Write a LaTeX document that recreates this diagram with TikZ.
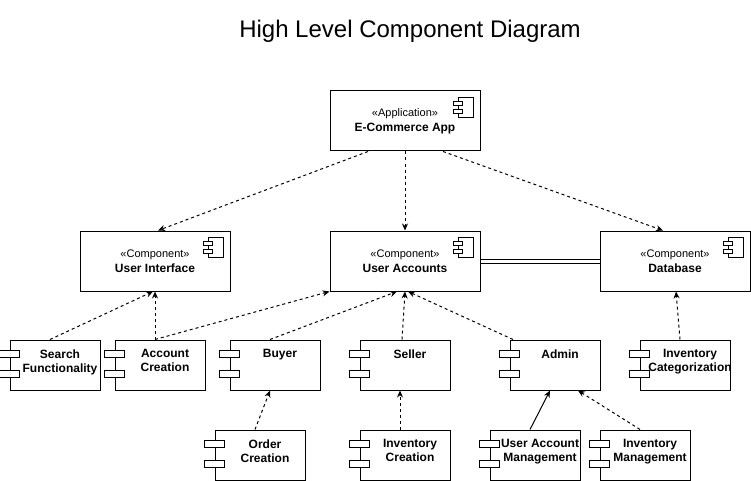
\documentclass[tikz,border=0pt]{standalone}
\usepackage{fontspec}
\setmainfont{Liberation Sans}
\usetikzlibrary{arrows.meta}

\tikzset{
  comp/.style={draw, minimum width=150pt, minimum height=60pt, align=center, inner sep=0pt,
    font=\fontsize{12}{15}\selectfont},
  part/.style={draw, minimum width=90pt, minimum height=50pt, inner sep=0pt},
  partname/.style={anchor=north, align=center, inner sep=0pt, xshift=5pt, yshift=-9.5pt,
    font=\fontsize{12}{14}\selectfont\bfseries},
  dep/.style={dash pattern=on 3pt off 3pt, -{Stealth[length=7pt,width=6pt]}},
  use/.style={-{Stealth[length=7pt,width=6pt]}}
}

% small component symbol in the top right corner
\newcommand{\compicon}[1]{%
  \draw[shift={(#1.north east)}, fill=white] (-22,7) rectangle (-7,27);
  \draw[shift={(#1.north east)}, fill=white] (-27,11) rectangle (-18,15);
  \draw[shift={(#1.north east)}, fill=white] (-27,19) rectangle (-18,23);
}
% the two ports on the left side of a part
\newcommand{\partports}[1]{%
  \draw[shift={(#1.north west)}, fill=white] (-10,11) rectangle (10,18);
  \draw[shift={(#1.north west)}, fill=white] (-10,31) rectangle (10,38);
}

\begin{document}
\begin{tikzpicture}[x=1pt, y=-1pt, line width=1pt, font=\fontsize{12}{14}\selectfont]
  \useasboundingbox (0,0) rectangle (751,481);

  % Title
  \node[anchor=base, font=\fontsize{24}{28}\selectfont] (title) at (410,38) {High Level Component Diagram};

  % Application and main components
  \node[comp] (app) at (405,121) {{\fontsize{11}{15}\selectfont «Application»}\\\textbf{E-Commerce App}};
  \node[comp] (ui) at (155,261) {{\fontsize{11}{15}\selectfont «Component»}\\\textbf{User Interface}};
  \node[comp] (ua) at (405,261) {{\fontsize{11}{15}\selectfont «Component»}\\\textbf{User Accounts}};
  \node[comp] (db) at (675,261) {{\fontsize{11}{15}\selectfont «Component»}\\\textbf{Database}};
  \compicon{app}
  \compicon{ui}
  \compicon{ua}
  \compicon{db}

  % Parts, first row
  \node[part, label={[partname]north:{Search\\Functionality}}] (search) at (55,365) {};
  \node[part, label={[partname]north:{Account\\Creation}}] (acc) at (160,365) {};
  \node[part, label={[partname]north:Buyer}] (buyer) at (275,365) {};
  \node[part, label={[partname]north:Seller}] (seller) at (405,365) {};
  \node[part, label={[partname]north:Admin}] (admin) at (555,365) {};
  \node[part, label={[partname]north:{Inventory\\Categorization}}] (invcat) at (685,365) {};

  % Parts, second row
  \node[part, label={[partname]north:{Order\\Creation}}] (order) at (260,455) {};
  \node[part, label={[partname]north:{Inventory\\Creation}}] (invcre) at (405,455) {};
  \node[part, label={[partname]north:{User Account\\Management}}] (uam) at (535,455) {};
  \node[part, label={[partname]north:{Inventory\\Management}}] (invmgmt) at (645,455) {};

  \foreach \p in {search,acc,buyer,seller,admin,invcat,order,invcre,uam,invmgmt}
    \partports{\p};

  % Dependencies from the application
  \draw[dep] ([xshift=-37pt]app.south) -- ([xshift=3pt]ui.north);
  \draw[dep] (app.south) -- (ua.north);
  \draw[dep] ([xshift=38pt]app.south) -- ([xshift=-12pt]db.north);

  % Link between accounts and database
  \draw[double, double distance=3pt] (ua.east) -- (db.west);

  % Dependencies of the parts
  \draw[dep] ([xshift=-5pt]search.north) -- ([xshift=-2pt]ui.south);
  \draw[dep] ([xshift=-5pt]acc.north) -- (ui.south);
  \draw[dep] ([xshift=-5pt]acc.north) -- (ua.south west);
  \draw[dep] ([xshift=-5pt]buyer.north) -- ([xshift=-8pt]ua.south);
  \draw[dep] ([xshift=-3pt]seller.north) -- (ua.south);
  \draw[dep] ([xshift=-42pt]admin.north) -- ([xshift=3pt]ua.south);
  \draw[dep] ([xshift=-5pt]invcat.north) -- ([xshift=1pt]db.south);
  \draw[dep] ([xshift=-5pt]order.north) -- ([xshift=-5pt]buyer.south);
  \draw[dep] ([xshift=-5pt]invcre.north) -- ([xshift=-5pt]seller.south);
  \draw[use] ([xshift=-5pt]uam.north) -- ([xshift=-5pt]admin.south);
  \draw[dep] ([xshift=-5pt]invmgmt.north) -- ([xshift=23pt]admin.south);
\end{tikzpicture}
\end{document}
